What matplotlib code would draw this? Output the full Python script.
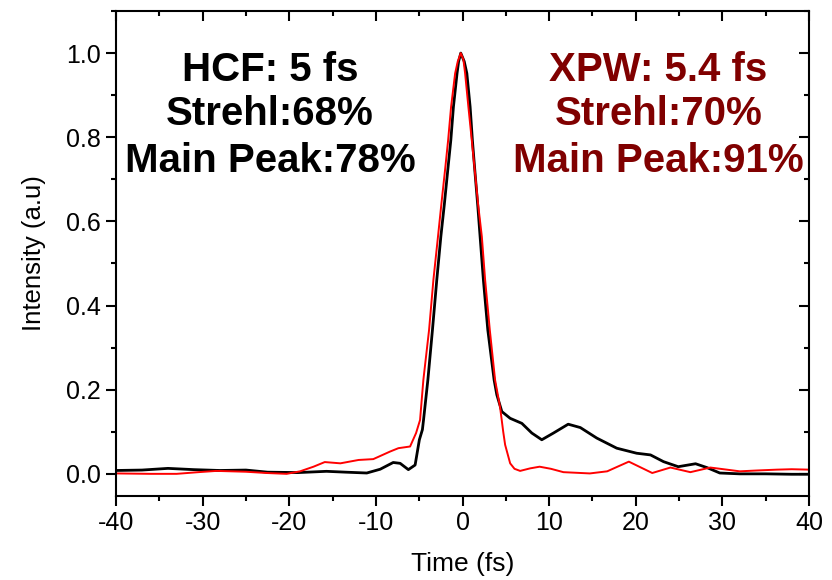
import matplotlib
matplotlib.use('Agg')
import matplotlib.pyplot as plt
from matplotlib.ticker import MultipleLocator
from matplotlib import rcParams
rcParams['font.family'] = ['Liberation Sans', 'DejaVu Sans']
rcParams['axes.unicode_minus'] = False

# HCF pulse (black)
hcf_t = [-40, -37, -34, -31, -28, -25, -22.5, -19, -15.7, -13.5, -11.05, -9.5, -8.0, -7.2,
         -6.25, -5.47, -4.98, -4.63, -4.5, -4.0, -3.47, -2.97, -2.5, -2.1, -1.74, -1.35,
         -1.05, -0.63, -0.45, -0.2, 0.2, 0.5, 0.88, 1.14, 1.45, 1.77, 2.03, 2.41, 2.92, 3.65,
         3.96, 4.54, 5.5, 6.85, 8.0, 9.15, 10.5, 12.2, 13.6, 15.5, 17.8, 20.1, 21.7, 23.2,
         24.9, 26.9, 28.2, 29.7, 32, 35, 38, 40]
hcf_i = [0.008, 0.009, 0.013, 0.010, 0.008, 0.009, 0.004, 0.003, 0.006, 0.004, 0.002, 0.011,
         0.027, 0.025, 0.010, 0.021, 0.081, 0.105, 0.128, 0.223, 0.342, 0.461, 0.564, 0.64,
         0.714, 0.793, 0.872, 0.952, 0.98, 1.0, 0.98, 0.952, 0.872, 0.793, 0.714, 0.635,
         0.564, 0.461, 0.342, 0.223, 0.188, 0.148, 0.132, 0.12, 0.097, 0.081, 0.097, 0.118,
         0.11, 0.085, 0.061, 0.049, 0.045, 0.029, 0.017, 0.024, 0.015, 0.002, 0.0, 0.0,
         -0.001, -0.001]

# XPW pulse (red)
xpw_t = [-40, -36, -33, -30.5, -28.4, -25, -22.6, -20.3, -18.75, -17.2, -15.9, -14.1, -12.0,
         -10.3, -8.36, -7.4, -6.05, -5.36, -4.9, -4.52, -3.86, -3.36, -2.85, -2.42, -2.0,
         -1.66, -1.32, -0.85, -0.55, -0.2, 0.1, 0.3, 0.68, 1.07, 1.45, 1.83, 2.23, 2.61,
         3.15, 3.76, 4.34, 4.7, 4.92, 5.5, 6.0, 6.65, 7.8, 8.9, 10.2, 11.65, 14.7, 16.7,
         18.0, 19.2, 20.5, 21.9, 24.0, 26.3, 28.6, 30.5, 32, 34, 36.3, 38, 40]
xpw_i = [0.001, 0.0, 0.0, 0.004, 0.007, 0.005, 0.002, 0.0, 0.006, 0.017, 0.028, 0.025, 0.033,
         0.035, 0.053, 0.061, 0.065, 0.097, 0.128, 0.223, 0.342, 0.461, 0.56, 0.645, 0.725,
         0.793, 0.872, 0.952, 0.98, 1.0, 0.985, 0.952, 0.872, 0.793, 0.714, 0.635, 0.564,
         0.461, 0.342, 0.223, 0.158, 0.10, 0.069, 0.025, 0.012, 0.007, 0.013, 0.017, 0.012,
         0.004, 0.001, 0.006, 0.018, 0.029, 0.016, 0.002, 0.015, 0.004, 0.015, 0.01, 0.006,
         0.008, 0.01, 0.011, 0.01]

hcf_text = ['HCF: 5 fs', 'Strehl:68%', 'Main Peak:78%']
xpw_text = ['XPW: 5.4 fs', 'Strehl:70%', 'Main Peak:91%']

fig = plt.figure(figsize=(8.32, 5.8), dpi=100)
ax = fig.add_axes([0.1394, 0.1453, 0.833, 0.8357])

ax.plot(hcf_t, hcf_i, color='black', lw=2.0, solid_joinstyle='round')
ax.plot(xpw_t, xpw_i, color='red', lw=1.4, solid_joinstyle='round')

ax.set_xlim(-40, 40)
ax.set_ylim(-0.052, 1.1)
ax.xaxis.set_major_locator(MultipleLocator(10))
ax.xaxis.set_minor_locator(MultipleLocator(5))
ax.yaxis.set_major_locator(MultipleLocator(0.2))
ax.yaxis.set_minor_locator(MultipleLocator(0.1))
ax.yaxis.set_major_formatter(plt.FormatStrFormatter('%.1f'))

for s in ax.spines.values():
    s.set_linewidth(1.5)
ax.tick_params(which='both', width=1.5, labelsize=18)
ax.tick_params(which='major', length=7.5)
ax.tick_params(which='minor', length=3.6)
ax.tick_params(which='both', bottom=True, left=True, direction='out')
ax.tick_params(which='both', top=True, right=True, labeltop=False, labelright=False)
# ticks on the mirrored axes point inward
for t in ax.xaxis.get_major_ticks() + ax.xaxis.get_minor_ticks():
    t.tick2line.set_marker(3)
for t in ax.yaxis.get_major_ticks() + ax.yaxis.get_minor_ticks():
    t.tick2line.set_marker(0)

ax.set_xlabel('Time (fs)', fontsize=19, labelpad=12)
ax.set_ylabel('Intensity (a.u)', fontsize=18.5, labelpad=14)

ys = [0.96, 0.856, 0.743]
for s, y in zip(hcf_text, ys):
    ax.text(-22.2, y, s, ha='center', va='center', fontsize=29, fontweight='bold', color='black')
for s, y in zip(xpw_text, ys):
    ax.text(22.6, y, s, ha='center', va='center', fontsize=29, fontweight='bold', color='#800000')

plt.savefig('out.png')
